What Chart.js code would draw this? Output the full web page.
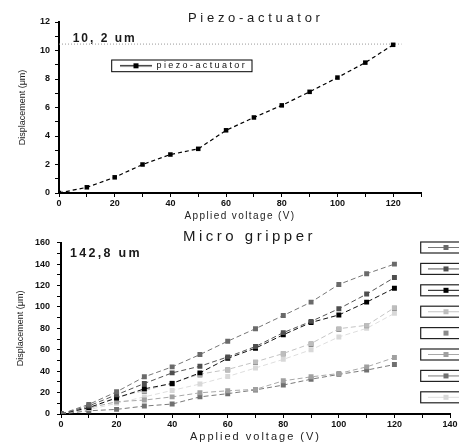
<!DOCTYPE html>
<html><head><meta charset="utf-8">
<script src="https://cdn.jsdelivr.net/npm/chart.js@4.4.1/dist/chart.umd.min.js"></script>
<style>
html,body{margin:0;padding:0;background:#fff;width:459px;height:445px;overflow:hidden;}
canvas{position:absolute;left:0;top:0;}
</style></head><body>
<canvas id="topChart" width="459" height="445"></canvas>
<canvas id="botChart" width="459" height="445"></canvas>
<script>
// ---------- data ----------
const piezoTitle = 'Piezo-actuator';
const piezoMaxText = '10, 2 um';
const piezoLabel = 'piezo-actuator';
const piezoVoltage = [0, 10, 20, 30, 40, 50, 60, 70, 80, 90, 100, 110, 120];
const piezoDisplacement = [0, 0.4, 1.1, 2.0, 2.7, 3.1, 4.4, 5.3, 6.15, 7.1, 8.1, 9.15, 10.4];
const piezoMaxLineX = [0, 123];
const piezoMaxLineY = [10.45, 10.45];

const gripperTitle = 'Micro gripper';
const gripperMaxText = '142,8 um';
const gripperVoltage = [0, 10, 20, 30, 40, 50, 60, 70, 80, 90, 100, 110, 120];
const gripperLabels = ['Gripper 1', 'Gripper 2', 'Gripper 3', 'Gripper 4', 'Gripper 5', 'Gripper 6', 'Gripper 7', 'Gripper 8'];
const gripper1 = [0, 9, 20.7, 34.7, 44, 55.5, 68, 79.7, 92, 104.5, 121, 131, 140];
const gripper2 = [0, 7.5, 18, 28.5, 38.4, 44.6, 53.3, 63, 76, 86.5, 98.3, 112, 127.5];
const gripper3 = [0, 6, 15, 23.5, 28.5, 38.4, 52, 61.5, 74, 85.5, 92.5, 104.5, 117.5];
const gripper4 = [0, 5, 16, 21.7, 29, 37.2, 41.6, 48.7, 56.5, 65.8, 79.7, 82.8, 99.3];
const gripper5 = [0, 5.5, 15.5, 21, 28, 36.5, 41, 48, 56, 65, 79, 82.3, 98.6];
const gripper6 = [0, 5.6, 11.5, 13, 16, 19.8, 21.7, 23, 31, 34.7, 37.8, 44, 52.7];
const gripper7 = [0, 3, 4.3, 7.4, 9.3, 16, 19, 22.5, 27, 32.5, 37, 41, 46.2];
const gripper8 = [0, 4, 10, 16, 22, 28, 35, 43, 51, 60, 72, 80, 94];
const gripperSeries = [gripper1, gripper2, gripper3, gripper4, gripper5, gripper6, gripper7, gripper8];

// ---------- styles ----------
const FONT = "'Liberation Sans', Arial, sans-serif";
const gripperLine = ['#777', '#555', '#111', '#c4c4c4', '#8c8c8c', '#a8a8a8', '#7a7a7a', '#dedede'];
const gripperMark = ['#6a6a6a', '#4e4e4e', '#000', '#bdbdbd', '#8a8a8a', '#a0a0a0', '#707070', '#d8d8d8'];
const gripperShowLine = [true, true, true, true, false, true, true, true];

function xy(xs, ys) { return xs.map((x, i) => ({x: x, y: ys[i]})); }

function legendSymbol(lineColor, markColor, width, showLine) {
  const c = document.createElement('canvas');
  c.width = width; c.height = 7;
  const g = c.getContext('2d');
  if (showLine) {
    g.strokeStyle = lineColor; g.lineWidth = 1.2;
    g.beginPath(); g.moveTo(0, 3.5); g.lineTo(width, 3.5); g.stroke();
  }
  g.fillStyle = markColor; g.fillRect(width / 2 - 2.5, 1, 5, 5);
  return c;
}

function spaced(obj, method, spacing) {
  const key = '__sp_' + method;
  if (obj[key]) return;
  const orig = obj[method];
  obj[method] = function () {
    const c = this.ctx; c.save(); c.letterSpacing = spacing;
    const r = orig.apply(this, arguments); c.restore(); return r;
  };
  obj[key] = true;
}

function placeLegend(left, top, spacing, frame) {
  return {
    id: 'placeLegend',
    afterLayout(chart) {
      const lg = chart.legend;
      lg.update(300, 400, {left: 0, top: 0, right: 0, bottom: 0});
      const w = lg.width, h = lg.height;
      lg.left = left; lg.top = top; lg.right = left + w + 200; lg.bottom = top + h;
      lg.width = w + 200;
      spaced(lg, 'draw', spacing);
      const sx = chart.scales.x, sy = chart.scales.y;
      spaced(sx, 'drawTitle', chart.options.scales.x.title.spacing || '0px');
      spaced(sy, 'drawTitle', chart.options.scales.y.title.spacing || '0px');
    },
    afterDraw(chart) {
      const lg = chart.legend, c = chart.ctx;
      c.save();
      c.strokeStyle = frame.color; c.lineWidth = frame.lw;
      lg.legendHitBoxes.forEach(hb => {
        c.strokeRect(hb.left + frame.dx, hb.top + frame.dy, frame.w, frame.h);
      });
      c.restore();
    }
  };
}

function textPlugin(items) {
  return {
    id: 'texts',
    afterDraw(chart) {
      const c = chart.ctx;
      items.forEach(t => {
        c.save();
        c.font = t.font; c.fillStyle = '#1a1a1a'; c.letterSpacing = t.spacing;
        c.textAlign = 'left'; c.textBaseline = 'alphabetic';
        c.fillText(t.text, t.x, t.y);
        c.restore();
      });
    }
  };
}

function axis(min, max, step, labelEvery, padLabel, fitKey, fitVal, title) {
  return {
    type: 'linear', min: min, max: max,
    grid: {display: true, drawOnChartArea: false, drawTicks: true, tickLength: 4, color: '#000', lineWidth: 1},
    border: {display: true, color: '#000', width: 2},
    ticks: {
      stepSize: step, autoSkip: false, maxRotation: 0, padding: padLabel, color: '#111',
      font: {family: FONT, size: 9, weight: 'bold'},
      callback: v => (Math.abs(v % labelEvery) < 1e-9 ? String(v) : '')
    },
    title: title,
    afterFit: s => { s[fitKey] = fitVal; }
  };
}

// ---------- top chart: piezo-actuator ----------
new Chart(document.getElementById('topChart'), {
  type: 'line',
  data: {
    datasets: [
      {
        label: piezoLabel,
        data: xy(piezoVoltage, piezoDisplacement),
        borderColor: '#000', backgroundColor: '#000', borderWidth: 1.2,
        borderDash: [4, 3], pointStyle: 'rect', pointRadius: 3.2, pointBorderWidth: 0,
        tension: 0
      },
      {
        label: 'max',
        data: xy(piezoMaxLineX, piezoMaxLineY),
        borderColor: '#9a9a9a', borderWidth: 1, borderDash: [1, 2], pointRadius: 0
      }
    ]
  },
  options: {
    responsive: false, animation: false, devicePixelRatio: 1,
    layout: {padding: {top: 22, left: 0, right: 38, bottom: 222}},
    scales: {
      x: axis(0, 130, 10, 20, 1, 'height', 30,
        {display: true, text: 'Applied voltage (V)', color: '#222', spacing: '1.4px',
         font: {family: FONT, size: 10}, padding: {top: 0, bottom: 0.3}}),
      y: axis(0, 12, 1, 2, 5, 'width', 59,
        {display: true, text: 'Displacement (\u03bcm)', color: '#222', spacing: '0px',
         font: {family: FONT, size: 9}, padding: {top: 17, bottom: 0}})
    },
    plugins: {
      legend: {
        display: true, position: 'chartArea', align: 'start',
        labels: {
          usePointStyle: true, pointStyleWidth: 32, padding: 10, color: '#111',
          font: {family: FONT, size: 9},
          filter: item => item.datasetIndex === 0,
          generateLabels: chart => {
            const items = Chart.defaults.plugins.legend.labels.generateLabels(chart);
            items.forEach(it => { it.pointStyle = legendSymbol('#000', '#000', 32, true); });
            return items;
          }
        }
      },
      tooltip: {enabled: false},
      title: {display: false}
    }
  },
  plugins: [
    placeLegend(110, 51.3, '2.4px', {color: '#000', lw: 1, dx: -8.3, dy: -1.3, w: 140.3, h: 11.7}),
    textPlugin([
      {text: piezoTitle, font: '13px ' + FONT, spacing: '3.7px', x: 188, y: 21.5},
      {text: piezoMaxText, font: 'bold 12px ' + FONT, spacing: '2px', x: 72.7, y: 41.5}
    ])
  ]
});

// ---------- bottom chart: micro gripper ----------
new Chart(document.getElementById('botChart'), {
  type: 'line',
  data: {
    datasets: gripperSeries.map((ys, i) => ({
      label: gripperLabels[i],
      data: xy(gripperVoltage, ys),
      showLine: gripperShowLine[i],
      borderColor: gripperLine[i], backgroundColor: gripperMark[i],
      borderWidth: 1, borderDash: [5, 3],
      pointStyle: 'rect', pointRadius: 3.5, pointBorderWidth: 0,
      pointBackgroundColor: gripperMark[i], tension: 0
    }))
  },
  options: {
    responsive: false, animation: false, devicePixelRatio: 1,
    layout: {padding: {top: 242.7, left: 0, right: 9, bottom: 0}},
    scales: {
      x: axis(0, 140, 10, 20, 1, 'height', 31,
        {display: true, text: 'Applied voltage (V)', color: '#222', spacing: '2px',
         font: {family: FONT, size: 11}, padding: {top: 0, bottom: 1.7}}),
      y: axis(0, 160, 10, 20, 7, 'width', 61,
        {display: true, text: 'Displacement (\u03bcm)', color: '#222', spacing: '0px',
         font: {family: FONT, size: 9}, padding: {top: 15.6, bottom: 0}})
    },
    plugins: {
      legend: {
        display: true, position: 'chartArea', align: 'start',
        labels: {
          usePointStyle: true, pointStyleWidth: 36, padding: 11.4, color: '#111',
          font: {family: FONT, size: 10},
          generateLabels: chart => {
            const items = Chart.defaults.plugins.legend.labels.generateLabels(chart);
            items.forEach(it => {
              const i = it.datasetIndex;
              it.pointStyle = legendSymbol(gripperLine[i], gripperMark[i], 36, gripperShowLine[i]);
            });
            return items;
          }
        }
      },
      tooltip: {enabled: false},
      title: {display: false}
    }
  },
  plugins: [
    placeLegend(416.6, 231.1, '0px', {color: '#222', lw: 1.2, dx: -7.3, dy: -0.5, w: 80, h: 11}),
    textPlugin([
      {text: gripperTitle, font: '15px ' + FONT, spacing: '3.5px', x: 183, y: 240.5},
      {text: gripperMaxText, font: 'bold 12.5px ' + FONT, spacing: '2.3px', x: 70, y: 257.3}
    ])
  ]
});
</script>
</body></html>
